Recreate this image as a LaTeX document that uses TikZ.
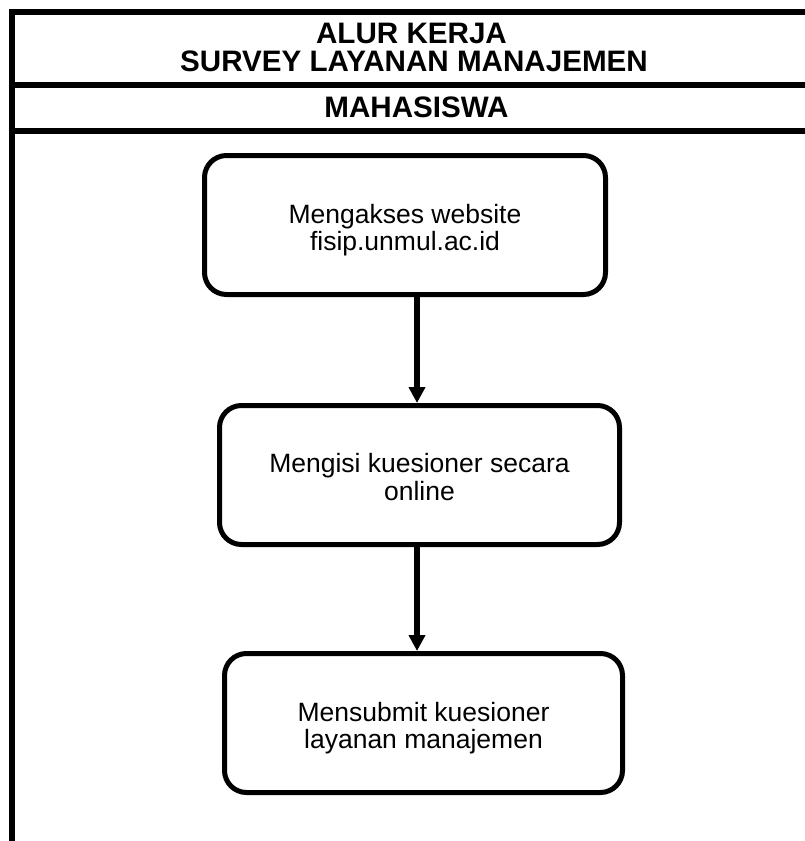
\documentclass[tikz,border=0pt]{standalone}
\usepackage{fontspec}
\setmainfont{Liberation Sans}
\usetikzlibrary{arrows.meta}
\begin{document}
\begin{tikzpicture}[x=1pt,y=-1pt,
  frame/.style={line width=6pt},
  stepbox/.style={draw,line width=5pt,rounded corners=22pt,minimum height=139pt,inner sep=0pt},
  steptext/.style={align=center,font=\fontsize{26.5}{27.5}\selectfont,inner sep=0pt},
  head/.style={anchor=base,font=\fontsize{29.6}{32}\bfseries\selectfont,inner sep=0pt},
  arr/.style={line width=5.5pt,-{Triangle[width=16pt,length=16pt]}}]
\useasboundingbox (0,0) rectangle (805,841);
\fill[white] (0,0) rectangle (805,841);
% frame
\draw[frame] (12,9) -- (12,841);
\draw[frame] (9,12) -- (805,12);
\draw[frame] (9,84.5) -- (805,84.5);
\draw[frame] (9,130.5) -- (805,130.5);
% headings
\node[head] (h1) at (411.5,43) {ALUR KERJA};
\node[head] (h2) at (414,71) {SURVEY LAYANAN MANAJEMEN};
\node[head] (h3) at (416.5,117) {MAHASISWA};
% boxes
\node[stepbox,minimum width=401pt] (b1) at (405,225) {};
\node[stepbox,minimum width=400pt] (b2) at (419.5,475) {};
\node[stepbox,minimum width=398pt] (b3) at (423.5,723) {};
\node[steptext] (t1) at ([yshift=-5pt]b1.center) {Mengakses website\\fisip.unmul.ac.id};
\node[steptext] (t2) at ([yshift=-2pt]b2.center) {Mengisi kuesioner secara\\online};
\node[steptext] (t3) at ([yshift=-5pt]b3.center) {Mensubmit kuesioner\\layanan manajemen};
% arrows
\coordinate (ax) at (417,0);
\draw[arr] (b1.south -| ax) -- (b2.north -| ax);
\draw[arr] (b2.south -| ax) -- (b3.north -| ax);
\end{tikzpicture}
\end{document}
